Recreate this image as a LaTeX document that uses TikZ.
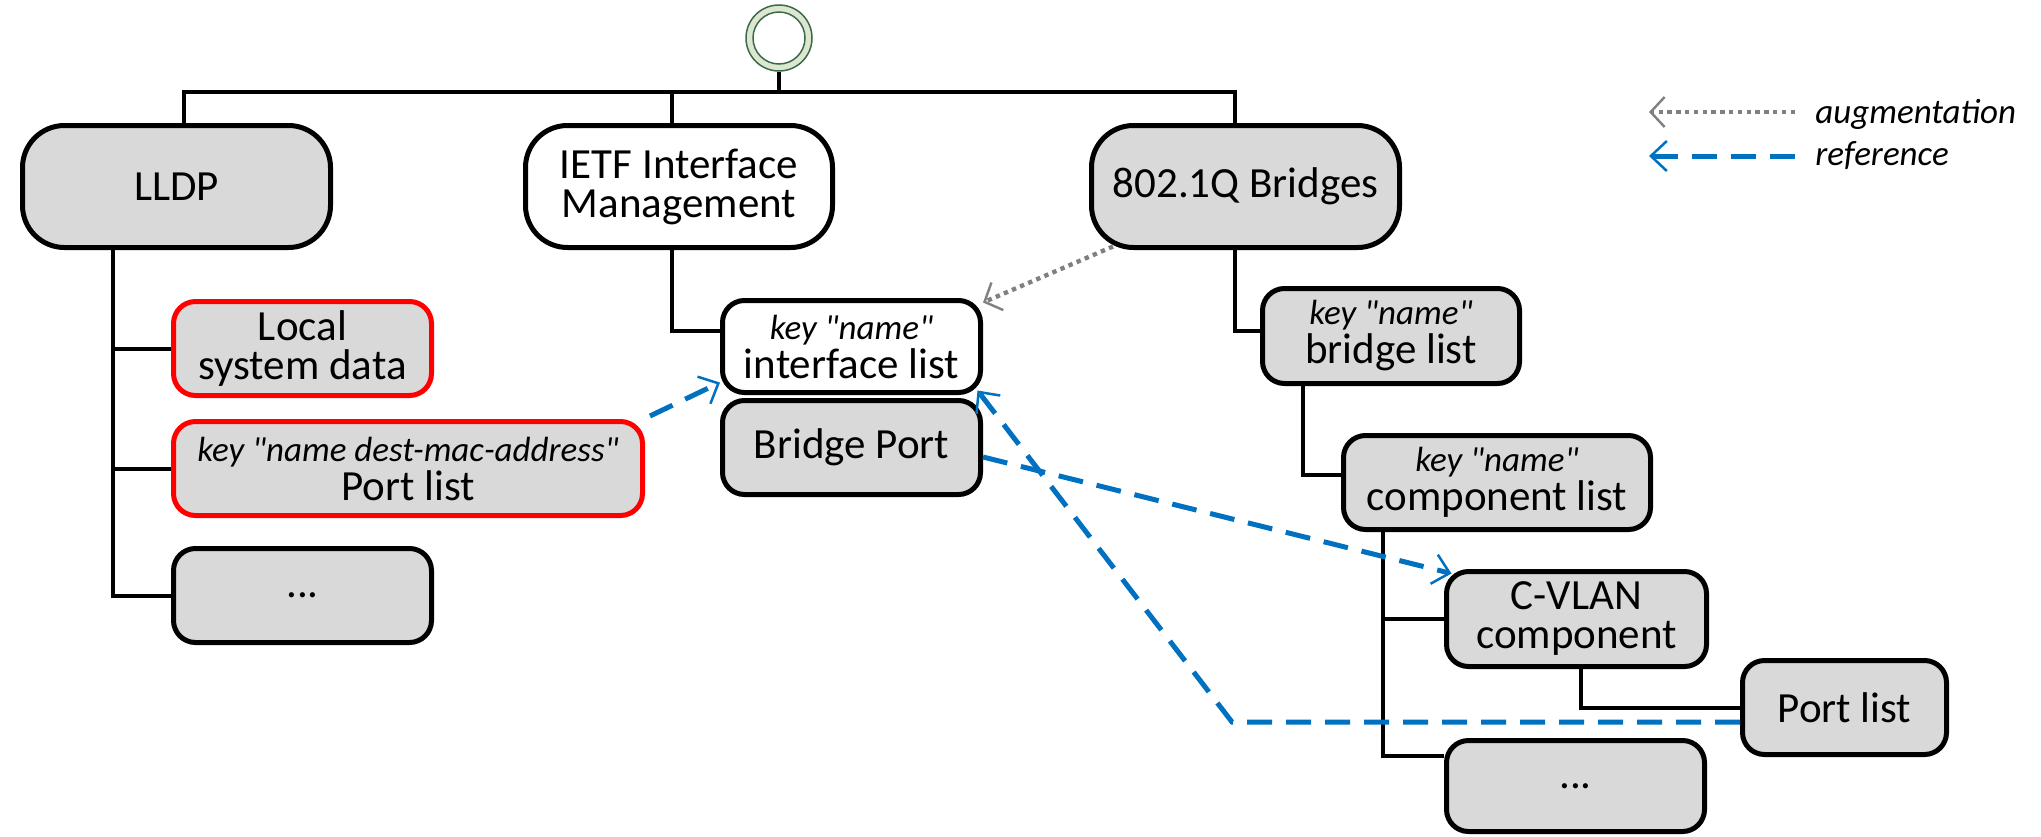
\documentclass[tikz,border=0pt]{standalone}
\usepackage{fontspec}
\setmainfont{Carlito}[Ligatures=TeXOff]
\usetikzlibrary{arrows.meta}
\definecolor{boxgray}{HTML}{D9D9D9}
\definecolor{refblue}{HTML}{0070C0}
\definecolor{auggray}{HTML}{808080}
\definecolor{ringfill}{HTML}{DDE6D0}
\definecolor{ringline}{HTML}{3B6A48}
\newcommand\boxfont{\fontsize{21.5}{19.5}\selectfont\lineskiplimit=-20pt\relax}
\newcommand\keyfont{\fontsize{17.5}{19.5}\selectfont\itshape}
\begin{document}
\begin{tikzpicture}[x=0.5pt,y=-0.5pt,
  box/.style={rectangle, rounded corners=11pt, draw=black, line width=2.5pt,
    fill=boxgray, align=center, inner sep=0pt, font=\boxfont,
    minimum width=129pt, minimum height=47pt},
  bigbox/.style={box, rounded corners=21pt, minimum width=154pt, minimum height=61pt},
  redbox/.style={box, draw=red},
  whitebox/.style={fill=white},
  tree/.style={draw=black, line width=2pt},
  ref/.style={draw=refblue, line width=2.5pt, dash pattern=on 12.5pt off 7pt,
    -{Straight Barb[length=8pt,width=15pt,line width=1.25pt]}},
  aug/.style={draw=auggray, line width=2.2pt, dash pattern=on 2.2pt off 2.2pt,
    -{Straight Barb[length=7pt,width=15pt,line width=1.2pt]}},
  legtext/.style={anchor=base west, inner sep=0pt, font=\keyfont}]
\useasboundingbox (0,0) rectangle (2041,836);

% root ring
\node[circle, draw=ringline, fill=ringfill, line width=0.75pt, minimum size=33pt, inner sep=0pt] (root) at (779,38) {};
\node[circle, draw=ringline, fill=white, line width=0.75pt, minimum size=26pt, inner sep=0pt] (rootin) at (root) {};
\coordinate (bus) at (779,92);

% boxes
\node[bigbox] (lldp) at (176.5,186.5) {LLDP};
\node[bigbox, whitebox, minimum width=153.5pt] (ietf) at (679,186.5) {IETF Interface\\Management};
\node[bigbox] (ieee) at (1245.5,186.5) {802.1Q Bridges};

\node[redbox] (local) at (302.5,348.5) {Local\\system data};
\node[redbox, minimum width=234.5pt] (lldpport) at (408,468.5) {{\keyfont key "name dest-mac-address"}\\Port list};
\node[box] (lldpmore) at (302.5,595.5) {...};

\node[box, whitebox, minimum height=46pt] (iflist) at (851.5,346.5) {{\keyfont key "name"}\\interface list};
\node[box] (bport) at (851.5,447.5) {Bridge Port};

\node[box, minimum width=128.5pt, minimum height=47.5pt] (blist) at (1391,336) {{\keyfont key "name"}\\bridge list};
\node[box, minimum width=153.5pt] (clist) at (1497,482.5) {{\keyfont key "name"}\\component list};
\node[box, minimum width=130pt, minimum height=47.5pt] (cvlan) at (1576.5,619) {C-VLAN\\component};
\node[box, minimum width=102pt] (portlist) at (1844.5,707.5) {Port list};
\node[box, minimum height=45.5pt] (cmore) at (1575.5,786) {...};

% tree connectors
\draw[tree] (root.south) -- (bus);
\draw[tree] (184,0 |- lldp.north) |- (bus) -| (1235,0 |- ieee.north);
\draw[tree] (672,0 |- ietf.north) -- (672,0 |- bus);
\draw[tree] (113,0 |- lldp.south) |- (local.west);
\draw[tree] (113,0 |- lldp.south) |- (lldpport.west);
\draw[tree] (113,0 |- lldp.south) |- (lldpmore.west);
\draw[tree] (672,0 |- ietf.south) |- ([yshift=8pt]iflist.west);
\draw[tree] (1235,0 |- ieee.south) |- ([yshift=2.5pt]blist.west);
\draw[tree] (1303,0 |- blist.south) |- ([yshift=4pt]clist.west);
\draw[tree] (1383,0 |- clist.south) |- (cvlan.west);
\draw[tree] (1383,0 |- clist.south) |- ([yshift=15pt]cmore.west);
\draw[tree] (1581,0 |- cvlan.south) |- (portlist.west);

% cross references
\coordinate (bend) at (1232,722);
\draw[aug] ([shift={(12pt,1.75pt)}]ieee.south west) -- ([yshift=-2.25pt]iflist.north east);
\draw[ref] ([shift={(2.5pt,1.5pt)}]lldpport.north east) -- ([yshift=6.25pt]iflist.south west);
\draw[ref] ([yshift=-4.75pt]bport.east) -- ([shift={(3.75pt,-2.25pt)}]cvlan.north west);
\draw[ref] ([yshift=-7.25pt]portlist.west) -- (bend) -- ([shift={(-2.75pt,2.25pt)}]iflist.south east);

% legend
\coordinate (augS) at (1795,112);
\coordinate (augT) at (1649,112);
\draw[aug] (augS) -- (augT);
\node[legtext] (augL) at (1815,123) {augmentation};
\coordinate (refS) at (1795,156);
\coordinate (refT) at (1649,156);
\draw[ref] (refS) -- (refT);
\node[legtext] (refL) at (1815,165) {reference};
\end{tikzpicture}
\end{document}
